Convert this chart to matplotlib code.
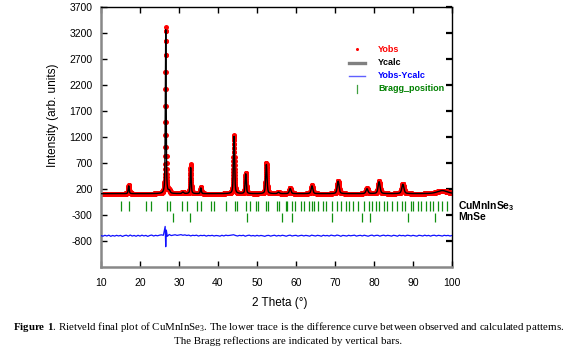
import numpy as np
import matplotlib
matplotlib.use('Agg')
import matplotlib.pyplot as plt

plt.rcParams['font.family'] = ['Liberation Sans', 'DejaVu Sans']
plt.rcParams['mathtext.fontset'] = 'custom'
plt.rcParams['mathtext.rm'] = 'Liberation Serif'
plt.rcParams['mathtext.bf'] = 'Liberation Serif:bold'
plt.rcParams['mathtext.sf'] = 'Liberation Sans:bold'
plt.rcParams['mathtext.default'] = 'rm'
plt.rcParams['axes.unicode_minus'] = False

# ---------------- data ----------------
peak_pos = [17.1, 26.6, 27.5, 31.0, 33.0, 35.6, 44.1, 47.1, 52.4, 55.5, 58.5,
            64.1, 70.8, 78.2, 81.3, 87.4, 97.5]
peak_obs = [160, 3200, 50, 30, 560, 120, 1130, 400, 590, 30, 110,
            160, 250, 100, 240, 190, 60]
peak_calc = [150, 3150, 50, 30, 500, 110, 1100, 380, 560, 30, 100,
             150, 240, 95, 230, 180, 60]
peak_fwhm = [0.3, 0.25, 0.5, 0.5, 0.3, 0.3, 0.35, 0.35, 0.4, 0.5, 0.5,
             0.5, 0.55, 0.6, 0.6, 0.65, 3.0]
background = 110

diff_values = [
    5, -8, 10, -4, 12, -10, 6, -6, 9, -3,
    8, -12, 4, 11, -7, 15, -5, 7, -9, 10,
    -6, 12, -3, 8, -11, 6, 14, -4, 9, 0,
    12, 18, 10, 30, -10, 25, 5, 12, 20, 8,
    15, 22, 10, 18, 6, 14, -2, 10, 4, 12,
    -5, 8, 3, 10, -6, 7, 1, 9, -4, 6,
    2, -7, 10, -3, 12, 4, 8, 15, 20, 6,
    -4, 8, 2, 10, -8, 5, 12, -2, 6, -5,
    9, -3, 7, 0, -10, 5, 8, -6, 4, 11,
    -5, 7, -2, 10, 3, -8, 6, 12, -4, 5,
    9, -6, 4, 10, -3, 8, 2, -7, 12, 5,
    -4, 9, 3, -8, 11, 0, 7, -5, 13, 4,
    -2, 14, 6, -9, 8, 3, -5, 10, 0, 7,
    12, -6, 4, 9, -3, 11, 2, -8, 6, 13,
    -4, 8, 10, -7, 5, 12, -2, 9, 3, -6,
    10, 4, -8, 12, 1, 7, -5, 11, 6, -3,
    9, 2, -7, 10, 5, -4, 12, 0, 8, -6,
    7, 11, -3, 9, 4, -5, 10, 2, 8, -4,
    6]
spike_pos = [26.45, 26.6, 26.75]
spike_vals = [180, -210, 110]
diff_offset = -700

bragg_cumninse3 = [15.2, 17.1, 21.6, 22.9, 26.8, 27.8, 30.8, 32.0, 34.5, 35.6,
                   38.2, 39.0, 42.1, 44.4, 45.0, 47.2, 48.1, 49.8, 50.2, 52.4,
                   52.9, 55.2, 55.6, 57.4, 57.8, 59.1, 59.8, 61.2, 62.0, 63.3,
                   64.0, 64.7, 65.6, 66.8, 67.8, 69.2, 70.6, 71.6, 72.7, 73.6,
                   74.6, 75.9, 77.4, 78.7, 79.6, 80.6, 81.4, 82.6, 83.4, 84.6,
                   85.8, 87.1, 88.0, 89.4, 90.1, 91.3, 92.0, 93.4, 94.3, 95.2,
                   96.4, 97.5, 98.6]
bragg_mnse = [28.5, 32.9, 47.5, 56.4, 58.9, 69.3, 76.8, 79.1, 88.6, 95.6]

xticks = [10, 20, 30, 40, 50, 60, 70, 80, 90, 100]
yticks = [-800, -300, 200, 700, 1200, 1700, 2200, 2700, 3200, 3700]

# ---------------- profile ----------------
two_theta = np.arange(10, 100.001, 0.02)


def profile(heights):
    y = np.full_like(two_theta, float(background))
    for p, h, w in zip(peak_pos, heights, peak_fwhm):
        d = (two_theta - p) / w
        g = np.exp(-4 * np.log(2) * d ** 2)
        lor = 1.0 / (1 + 4 * d ** 2)
        y += h * (0.5 * g + 0.5 * lor)
    return y


y_obs = profile(peak_obs)
y_calc = profile(peak_calc)

diff_x = np.concatenate([np.arange(10, 100.001, 0.5), spike_pos])
diff_y = np.concatenate([diff_values, spike_vals]) + diff_offset
order = np.argsort(diff_x)
diff_x, diff_y = diff_x[order], diff_y[order]

# ---------------- figure ----------------
fig = plt.figure(figsize=(5.77, 3.51), dpi=100)
ax = fig.add_axes([101 / 577, 1 - 267 / 351, 351 / 577, 260 / 351])

ax.plot(two_theta, y_obs, linestyle='none', marker='o', ms=3.6,
        color='#ff0000', mec='none', zorder=2)
ax.plot(two_theta, y_calc, color='black', lw=1.0, zorder=3)
ax.plot(diff_x, diff_y, color='#1010ff', lw=0.9, zorder=3)
ax.vlines(bragg_cumninse3, -40, -220, color='#109010', lw=0.9, zorder=3)
ax.vlines(bragg_mnse, -260, -430, color='#109010', lw=0.9, zorder=3)

ax.set_xlim(10, 100)
ax.set_ylim(-1300, 3700)
ax.set_xticks(xticks)
ax.set_yticks(yticks)
ax.tick_params(axis='both', direction='in', length=4, width=1,
               labelsize=7.5, top=True, right=True)
ax.tick_params(axis='x', pad=8)
ax.tick_params(axis='y', pad=6)
for t in ax.yaxis.get_major_ticks():
    t.tick1line.set_color('#555555')
    t.tick2line.set_color('#888888')
    t.tick2line.set_markeredgewidth(1.6)

for s in ['left', 'bottom']:
    ax.spines[s].set_color('#888888')
    ax.spines[s].set_linewidth(1.8)
for s in ['top', 'right']:
    ax.spines[s].set_color('black')
    ax.spines[s].set_linewidth(1.0)

ax.set_ylabel('Intensity (arb. units)', fontsize=8.5)
ax.yaxis.set_label_coords(-0.12, 0.585)
ax.set_xlabel('2 Theta (°)', fontsize=8.5)
ax.xaxis.set_label_coords(0.51, -0.115)

# legend drawn by hand
ta = ax.transAxes
lx0, lx1, lxc, ltx = 0.707, 0.752, 0.729, 0.789
rows = [0.838, 0.785, 0.735, 0.685]
ax.plot([lxc], [rows[0]], marker='o', ms=2.2, color='#ff0000', mec='none',
        transform=ta, clip_on=False)
ax.plot([lx0, lx1], [rows[1], rows[1]], color='#808080', lw=2.4, transform=ta)
ax.plot([lx0, lx1], [rows[2], rows[2]], color='#6060ff', lw=1.0, transform=ta)
ax.plot([lxc, lxc], [rows[3] - 0.016, rows[3] + 0.016], color='#40a040', lw=0.9,
        transform=ta)
for txt, c, yy in zip(['Yobs', 'Ycalc', 'Yobs-Ycalc', 'Bragg_position'],
                      ['#ff0000', 'black', '#0000ff', '#008000'], rows):
    ax.text(ltx, yy, txt, color=c, fontsize=6.5, fontweight='bold',
            transform=ta, va='center', ha='left')

# phase labels
yt = ax.get_yaxis_transform()
ax.text(1.017, -130, r'CuMnInSe$\mathsf{_3}$', transform=yt, fontsize=7.5,
        fontweight='bold', va='center', ha='left', clip_on=False)
ax.text(1.017, -345, 'MnSe', transform=yt, fontsize=7.5,
        fontweight='bold', va='center', ha='left', clip_on=False)

# caption
fig.text(0.5, 1 - 327 / 351,
         r'$\mathbf{Figure\ 1}$. Rietveld final plot of CuMnInSe$_3$. The lower trace '
         r'is the difference curve between observed and calculated patterns.',
         family=['Liberation Serif'], fontsize=7.8, ha='center', va='center')
fig.text(0.5, 1 - 341 / 351,
         'The Bragg reflections are indicated by vertical bars.',
         family=['Liberation Serif'], fontsize=7.8, ha='center', va='center')

fig.savefig('out.png', dpi=100)
